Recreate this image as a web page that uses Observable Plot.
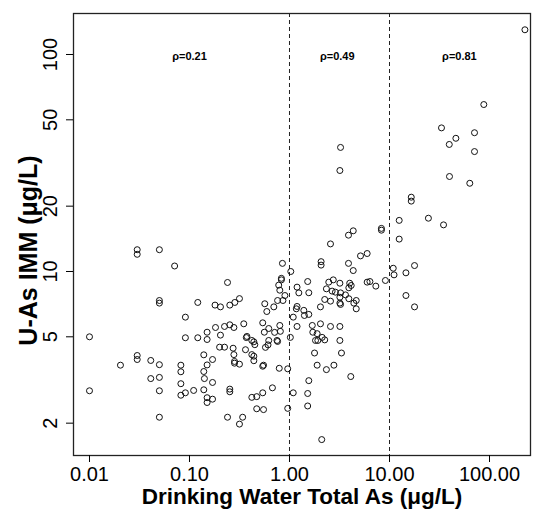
<!DOCTYPE html>
<html><head><meta charset="utf-8">
<script src="https://cdn.jsdelivr.net/npm/d3@7"></script>
<script src="https://cdn.jsdelivr.net/npm/@observablehq/plot@0.6"></script>
<style>body{margin:0;background:#fff}</style>
</head><body><div id="chart"></div>
<script>
// Drinking water total As (µg/L)
const waterAs = [
  0.030,0.030,0.050,0.071,0.85,0.24,0.83,0.83,0.78,0.80,
  0.90,0.86,0.76,0.050,0.050,0.121,0.18,0.204,0.253,0.284,
  0.316,0.091,0.566,0.593,0.697,0.010,0.010,0.0204,0.030,0.030,
  0.041,0.050,0.041,0.050,0.050,0.050,0.091,0.121,0.082,0.082,
  0.082,0.082,0.091,0.110,0.139,0.150,0.150,0.182,0.204,0.224,
  0.253,0.278,0.349,0.20,0.224,0.273,0.278,0.282,0.282,0.316,
  0.139,0.150,0.170,0.139,0.141,0.170,0.150,0.150,0.170,0.253,
  0.253,0.240,0.316,0.340,0.37,0.375,0.42,0.44,0.363,0.42,
  0.44,0.44,0.54,0.56,0.62,0.71,0.80,0.81,0.75,0.76,
  0.62,0.61,0.575,0.54,0.55,0.675,0.54,0.47,0.42,0.47,
  0.55,0.79,0.96,0.96,0.45,
  1.03,1.19,1.24,1.19,1.09,1.19,1.02,1.09,1.17,1.39,
  1.41,1.56,1.52,1.56,2.04,2.25,2.47,2.74,3.19,2.34,
  2.67,2.88,4.0,4.14,3.92,3.24,3.63,3.19,3.92,2.57,
  3.19,3.24,4.65,4.4,4.65,1.69,2.04,2.57,3.19,1.71,
  1.89,2.12,1.82,1.92,2.25,3.19,1.78,3.31,1.89,2.34,
  2.78,4.1,1.56,1.52,1.52,2.1,2.57,2.07,2.07,3.89,
  4.34,3.89,4.34,5.13,5.98,5.98,6.37,7.3,8.3,8.3,
  9.1,3.24,3.19,
  10.9,11.1,12.5,12.5,14.6,14.6,17.8,17.8,16.5,16.5,
  24.5,34.7,33.1,46.1,39.6,70.8,70.8,39.8,63.5,87.7,
  226
];
// Urinary inorganic As metabolites (µg/L)
const urineAs = [
  12.6,12.0,12.6,10.6,10.9,8.9,9.3,9.15,8.65,8.2,
  7.75,7.35,7.35,7.35,7.15,7.2,7.0,6.87,7.0,7.2,
  7.5,6.16,7.1,6.54,6.87,5.0,2.82,3.7,4.1,3.93,
  3.89,3.72,3.21,3.25,2.82,2.13,4.95,4.95,3.70,3.45,
  3.04,2.69,2.76,2.83,2.85,5.25,4.86,5.52,5.09,5.58,
  5.68,5.52,5.74,4.48,4.48,4.43,4.14,3.85,3.78,3.74,
  4.13,3.71,3.93,3.46,3.21,3.08,2.62,2.49,2.58,2.87,
  2.79,2.13,1.98,2.13,4.96,5.02,4.81,4.74,4.36,4.14,
  4.07,3.88,5.8,5.25,5.46,5.24,5.64,5.3,4.81,4.76,
  4.81,4.59,4.47,3.66,3.70,2.91,2.76,2.65,2.63,2.33,
  2.31,3.58,3.56,2.34,4.6,
  10.0,8.47,7.97,6.9,6.16,5.58,4.97,2.76,6.73,6.62,
  6.27,6.34,8.99,7.98,6.87,7.43,8.93,9.15,8.83,8.32,
  8.12,8.03,8.83,8.62,8.41,7.97,7.8,7.61,7.49,7.3,
  7.15,7.05,7.35,7.15,6.73,5.64,5.74,5.58,5.58,5.25,
  5.17,4.97,4.81,4.81,4.84,4.81,4.21,4.21,3.70,3.53,
  3.70,3.28,3.14,2.74,2.40,1.68,13.4,11.1,10.7,10.9,
  10.1,14.7,15.4,11.8,12.1,8.93,8.99,8.56,15.8,15.5,
  9.09,37.3,29.2,
  10.35,9.65,17.2,14.1,9.86,7.75,10.65,6.87,22.0,21.1,
  17.6,16.4,45.9,41.1,38.5,43.6,35.7,27.4,25.5,58.8,
  130
];
const xTicks = [0.01, 0.1, 1, 10, 100];
const xTickLabels = ["0.01", "0.10", "1.00", "10.00", "100.00"];
const yTicks = [2, 5, 10, 20, 50, 100];
const yTickLabels = ["2", "5", "10", "20", "50", "100"];
const cutoffs = [1, 10];
const rhoLabels = ["ρ=0.21", "ρ=0.49", "ρ=0.81"];
const rhoX = [0.1, 3.0, 50];
const rhoY = [98, 98, 98];
const xTitle = "Drinking Water Total As (μg/L)";
const yTitle = "U-As IMM (μg/L)";

const points = waterAs.map((x, i) => ({x, y: urineAs[i]}));
const rho = rhoLabels.map((t, i) => ({t, x: rhoX[i], y: rhoY[i]}));

const chart = Plot.plot({
  width: 537, height: 512,
  marginLeft: 73, marginRight: 7, marginTop: 13, marginBottom: 57,
  style: {fontFamily: "'Liberation Sans', Arial, sans-serif", background: "#fff", color: "#000"},
  x: {type: "log", domain: [0.00692, 257]},
  y: {type: "log", domain: [1.419, 154.5]},
  marks: [
    Plot.frame({stroke: "#222", strokeWidth: 1.3}),
    Plot.ruleX(cutoffs, {stroke: "#222", strokeDasharray: "4,3"}),
    Plot.dot(points, {x: "x", y: "y", r: 3, stroke: "#111", strokeWidth: 1, fill: "none"}),
    Plot.text(rho, {x: "x", y: "y", text: "t", fontWeight: "bold", fontSize: 11}),
    Plot.axisX({ticks: xTicks, tickFormat: d => xTickLabels[xTicks.indexOf(d)], tickSize: 7, tickPadding: 4, fontSize: 20, label: null}),
    Plot.axisY({ticks: yTicks, tickFormat: d => yTickLabels[yTicks.indexOf(d)], tickSize: 7, tickRotate: -90, tickPadding: 10, fontSize: 20, label: null}),
    Plot.text([xTitle], {frameAnchor: "bottom", dy: 48, fontWeight: "bold", fontSize: 22.5}),
    Plot.text([yTitle], {frameAnchor: "left", dx: -45, dy: 16, rotate: -90, textAnchor: "middle", fontWeight: "bold", fontSize: 25})
  ]
});
document.getElementById("chart").appendChild(chart);
</script>
</body></html>
